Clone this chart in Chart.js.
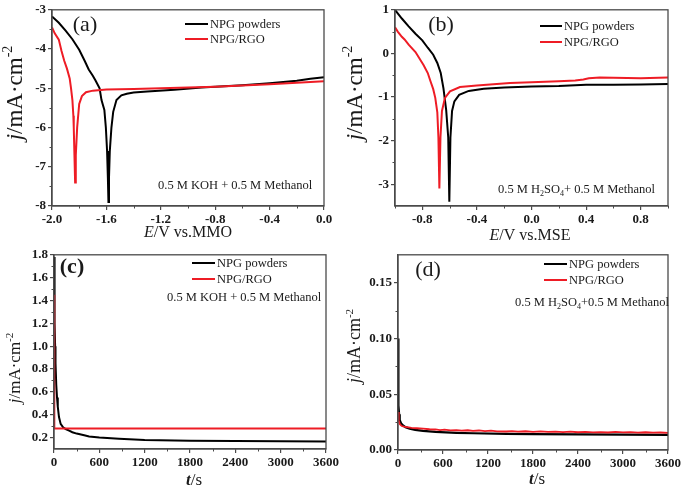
<!DOCTYPE html>
<html><head><meta charset="utf-8">
<script src="https://cdn.jsdelivr.net/npm/chart.js@4.4.0/dist/chart.umd.min.js"></script>
<style>
html,body{margin:0;padding:0;background:#fff;}
#wrap{position:relative;width:685px;height:490px;overflow:hidden;background:#fff;}
canvas{position:absolute;}
</style></head><body>
<div id="wrap">
<canvas id="ca" width="342" height="245" style="left:0;top:0"></canvas>
<canvas id="cb" width="343" height="245" style="left:342px;top:0"></canvas>
<canvas id="cc" width="342" height="245" style="left:0;top:245px"></canvas>
<canvas id="cd" width="343" height="245" style="left:342px;top:245px"></canvas>
</div>
<script>
// ---------- DATA ----------
const SERIES_NAMES = ['NPG powders', 'NPG/RGO'];

// (a) 0.5 M KOH + 0.5 M Methanol, E/V vs. MMO
const A_E_NPG = [-2.0,-1.95,-1.9,-1.85,-1.8,-1.76,-1.73,-1.70,-1.68,-1.65,-1.636,-1.615,-1.604,-1.595,-1.589,-1.585,-1.581,-1.575,-1.563,-1.55,-1.526,-1.49,-1.45,-1.4,-1.3,-1.1,-0.9,-0.8,-0.6,-0.4,-0.2,-0.1,0.0];
const A_J_NPG = [-3.17,-3.33,-3.53,-3.75,-4.02,-4.30,-4.52,-4.68,-4.80,-5.0,-5.3,-5.55,-6.0,-6.6,-7.3,-7.9,-7.3,-6.6,-6.0,-5.6,-5.3,-5.18,-5.14,-5.11,-5.08,-5.04,-4.98,-4.96,-4.92,-4.87,-4.81,-4.76,-4.72];
const A_E_RGO = [-2.0,-1.98,-1.95,-1.93,-1.91,-1.89,-1.87,-1.86,-1.85,-1.843,-1.84,-1.835,-1.83,-1.825,-1.815,-1.80,-1.78,-1.75,-1.7,-1.6,-1.4,-1.2,-1.0,-0.8,-0.6,-0.4,-0.2,0.0];
const A_J_RGO = [-3.45,-3.6,-3.76,-4.05,-4.3,-4.5,-4.75,-5.0,-5.3,-5.7,-6.0,-6.7,-7.4,-6.7,-6.0,-5.4,-5.2,-5.1,-5.06,-5.03,-5.02,-5.0,-4.98,-4.96,-4.93,-4.9,-4.86,-4.82];
const A_X_TICKS = [-2.0,-1.6,-1.2,-0.8,-0.4,0.0];
const A_X_MINOR = [-1.8,-1.4,-1.0,-0.6,-0.2];
const A_Y_TICKS = [-8,-7,-6,-5,-4,-3];
const A_Y_MINOR = [-7.5,-6.5,-5.5,-4.5,-3.5];

// (b) 0.5 M H2SO4 + 0.5 M Methanol, E/V vs. MSE
const B_E_NPG = [-1.0,-0.95,-0.9,-0.85,-0.8,-0.76,-0.72,-0.69,-0.665,-0.645,-0.625,-0.61,-0.602,-0.594,-0.582,-0.565,-0.53,-0.46,-0.35,-0.2,0.0,0.2,0.4,0.6,0.8,1.0];
const B_J_NPG = [1.0,0.8,0.62,0.45,0.3,0.13,-0.03,-0.22,-0.45,-0.8,-1.3,-1.93,-3.4,-1.93,-1.32,-1.1,-0.95,-0.86,-0.81,-0.78,-0.76,-0.75,-0.72,-0.72,-0.715,-0.70];
const B_E_RGO = [-1.0,-0.98,-0.95,-0.93,-0.9,-0.85,-0.79,-0.76,-0.74,-0.72,-0.705,-0.69,-0.682,-0.675,-0.667,-0.656,-0.634,-0.597,-0.524,-0.4,-0.157,0.0,0.2,0.32,0.38,0.42,0.5,0.6,0.8,1.0];
const B_J_RGO = [0.6,0.5,0.38,0.32,0.2,0.03,-0.27,-0.45,-0.64,-0.82,-1.02,-1.35,-1.93,-3.1,-1.93,-1.32,-1.02,-0.87,-0.77,-0.735,-0.68,-0.66,-0.64,-0.62,-0.6,-0.57,-0.555,-0.56,-0.57,-0.55];
const B_X_TICKS = [-0.8,-0.4,0.0,0.4,0.8];
const B_X_MINOR = [-1.0,-0.6,-0.2,0.2,0.6,1.0];
const B_Y_TICKS = [-3,-2,-1,0,1];
const B_Y_MINOR = [-2.5,-1.5,-0.5,0.5];

// (c) chronoamperometry, KOH
const C_T_NPG = [0,5,10,15,20,30,40,50,66,88,120,155,200,243,300,400,465,600,860,1200,1800,2400,3000,3600];
const C_J_NPG = [1.78,1.45,1.2,1.0,0.85,0.66,0.55,0.47,0.38,0.32,0.29,0.275,0.26,0.247,0.235,0.22,0.21,0.2,0.19,0.178,0.172,0.17,0.168,0.165];
const C_T_RGO = [0,4,3600];
const C_J_RGO = [1.45,0.28,0.28];
const C_X_TICKS = [0,600,1200,1800,2400,3000,3600];
const C_X_MINOR = [300,900,1500,2100,2700,3300];
const C_Y_TICKS = [0.2,0.4,0.6,0.8,1.0,1.2,1.4,1.6,1.8];
const C_Y_MINOR = [0.3,0.5,0.7,0.9,1.1,1.3,1.5,1.7];

// (d) chronoamperometry, H2SO4
const D_T_NPG = [0,3,8,15,23,40,67,100,156,230,333,500,778,1000,1445,1800,2400,3000,3600];
const D_J_NPG = [0.10,0.06,0.04,0.032,0.027,0.024,0.022,0.0205,0.0192,0.018,0.0171,0.0162,0.0154,0.015,0.0145,0.0142,0.014,0.0137,0.0135];
const D_T_RGO = [0,10,25,50,80,120,180,250,333,420,500,560,620,700,778,850,930,1000,1080,1160,1240,1320,1445,1520,1600,1700,1800,1900,2000,2100,2200,2300,2400,2500,2600,2700,2800,2900,3000,3100,3200,3300,3400,3500,3600];
const D_J_RGO = [0.034,0.026,0.023,0.0215,0.021,0.0205,0.0198,0.0195,0.0192,0.0186,0.0184,0.0179,0.0182,0.0176,0.0178,0.0174,0.0177,0.0171,0.0175,0.0169,0.0173,0.0167,0.0166,0.017,0.0165,0.0168,0.0163,0.0167,0.0162,0.0165,0.016,0.0164,0.0159,0.0162,0.0158,0.0161,0.0157,0.0162,0.0158,0.016,0.0156,0.0159,0.0155,0.0157,0.0154];
const D_X_TICKS = [0,600,1200,1800,2400,3000,3600];
const D_X_MINOR = [300,900,1500,2100,2700,3300];
const D_Y_TICKS = [0.00,0.05,0.10,0.15];
const D_Y_MINOR = [0.025,0.075,0.125];

// ---------- STYLE ----------
const FONT = '"Liberation Serif", "Times New Roman", serif';
const BLACK = '#000000';
const RED = '#ee1c25';
const FRAME = '#4a4a4a';
const TXT = '#1a1a1a';

function drawRich(ctx, segs, x, y, align) {
  let w = 0;
  const items = segs.map(s => {
    const f = `${s.italic ? 'italic ' : ''}${s.bold ? 'bold ' : ''}${s.size}px ${FONT}`;
    ctx.font = f;
    const m = ctx.measureText(s.t).width;
    w += m;
    return {t: s.t, f, w: m, dy: s.dy || 0};
  });
  let cx = align === 'center' ? x - w / 2 : x;
  ctx.textAlign = 'left';
  ctx.textBaseline = 'alphabetic';
  ctx.fillStyle = TXT;
  items.forEach(it => { ctx.font = it.f; ctx.fillText(it.t, cx, y + it.dy); cx += it.w; });
}

function yTitleSegs(size) {
  return [
    {t: 'j', italic: true, size},
    {t: '/mA\u00B7cm', size},
    {t: '-2', size: Math.round(size * 0.62), dy: -size * 0.42}
  ];
}

function makePanel(p) {
  const overlay = {
    id: 'overlay_' + p.id,
    afterDraw(chart) {
      const ctx = chart.ctx;
      const a = chart.chartArea;
      const sx = chart.scales.x, sy = chart.scales.y;
      ctx.save();
      // frame
      ctx.strokeStyle = FRAME;
      ctx.lineWidth = 1.3;
      ctx.strokeRect(a.left, a.top, a.right - a.left, a.bottom - a.top);
      // minor ticks (outward)
      ctx.lineWidth = 1;
      ctx.beginPath();
      p.x.minor.forEach(v => {
        const px = Math.round(sx.getPixelForValue(v)) + 0.5;
        ctx.moveTo(px, a.bottom); ctx.lineTo(px, a.bottom + 2.5);
      });
      p.y.minor.forEach(v => {
        const py = Math.round(sy.getPixelForValue(v)) + 0.5;
        ctx.moveTo(a.left, py); ctx.lineTo(a.left - 2.5, py);
      });
      ctx.stroke();
      // axis titles
      drawRich(ctx, p.xTitle.segs, p.xTitle.x, p.xTitle.y, 'center');
      ctx.save();
      ctx.translate(p.yTitle.x, p.yTitle.y);
      ctx.rotate(-Math.PI / 2);
      drawRich(ctx, yTitleSegs(p.yTitle.size), 0, p.yTitle.size * 0.35, 'center');
      ctx.restore();
      // panel label
      drawRich(ctx, [{t: p.label.t, size: p.label.size, bold: p.label.bold}], p.label.x, p.label.y + p.label.size * 0.35, 'center');
      // legend
      const L = p.legend;
      [BLACK, RED].forEach((c, i) => {
        ctx.strokeStyle = c;
        ctx.lineWidth = 2;
        ctx.beginPath();
        ctx.moveTo(L.x1, L.y[i]); ctx.lineTo(L.x2, L.y[i]);
        ctx.stroke();
        drawRich(ctx, [{t: SERIES_NAMES[i], size: L.size}], L.tx, L.y[i] + L.size * 0.33, 'left');
      });
      // note
      drawRich(ctx, p.note.segs, p.note.x, p.note.y + 4.3, 'left');
      ctx.restore();
    }
  };

  const ds = p.series.map((s, i) => ({
    label: SERIES_NAMES[i],
    data: s.x.map((xv, k) => ({x: xv, y: s.y[k]})),
    borderColor: s.color,
    borderWidth: s.width || 2,
    pointRadius: 0,
    tension: 0,
    fill: false,
    order: i === 0 ? 1 : 0
  }));

  const axisCommon = (ax, isX) => ({
    type: 'linear',
    min: ax.min,
    max: ax.max,
    afterBuildTicks: sc => { sc.ticks = ax.ticks.map(v => ({value: v})); },
    afterFit: sc => { if (isX) sc.height = p.xH; else sc.width = p.yW; },
    ticks: {
      autoSkip: false,
      maxRotation: 0,
      padding: 2,
      color: TXT,
      font: {family: FONT, size: 13, weight: 'bold'},
      callback: v => Number(v).toFixed(ax.dec)
    },
    grid: {drawOnChartArea: false, drawTicks: true, tickLength: 4, color: FRAME, lineWidth: 1.2},
    border: {display: true, color: FRAME, width: 1.3}
  });

  new Chart(document.getElementById(p.id), {
    type: 'line',
    data: {datasets: ds},
    options: {
      responsive: false,
      animation: false,
      devicePixelRatio: 1,
      parsing: true,
      layout: {padding: {top: p.pad.top, right: p.pad.right, left: 0, bottom: 0}},
      plugins: {legend: {display: false}, tooltip: {enabled: false}},
      scales: {x: axisCommon(p.x, true), y: axisCommon(p.y, false)}
    },
    plugins: [overlay]
  });
}

const sub = (t) => ({t, size: 8, dy: 3});

makePanel({
  id: 'ca', pad: {top: 7, right: 18}, yW: 52, xH: 39,
  x: {min: -2, max: 0, ticks: A_X_TICKS, minor: A_X_MINOR, dec: 1},
  y: {min: -8, max: -3, ticks: A_Y_TICKS, minor: A_Y_MINOR, dec: 0},
  series: [{x: A_E_NPG, y: A_J_NPG, color: BLACK}, {x: A_E_RGO, y: A_J_RGO, color: RED}],
  xTitle: {x: 188, y: 237, segs: [{t: 'E', italic: true, size: 16}, {t: '/V vs.MMO', size: 16}]},
  yTitle: {x: 14, y: 93, size: 23},
  label: {t: '(a)', x: 85, y: 23, size: 22},
  legend: {x1: 185, x2: 208, y: [24, 39], tx: 210, size: 12.5},
  note: {x: 158, y: 185, segs: [{t: '0.5 M KOH + 0.5 M Methanol', size: 12.5}]}
});

makePanel({
  id: 'cb', pad: {top: 7, right: 17}, yW: 53, xH: 39,
  x: {min: -1, max: 1, ticks: B_X_TICKS, minor: B_X_MINOR, dec: 1},
  y: {min: -3.5, max: 1, ticks: B_Y_TICKS, minor: B_Y_MINOR, dec: 0},
  series: [{x: B_E_NPG, y: B_J_NPG, color: BLACK}, {x: B_E_RGO, y: B_J_RGO, color: RED}],
  xTitle: {x: 188, y: 240, segs: [{t: 'E', italic: true, size: 16}, {t: '/V vs.MSE', size: 16}]},
  yTitle: {x: 12, y: 93, size: 23},
  label: {t: '(b)', x: 99, y: 23, size: 22},
  legend: {x1: 198, x2: 220, y: [26, 42], tx: 222, size: 12.5},
  note: {x: 156, y: 189, segs: [{t: '0.5 M H', size: 12.5}, sub('2'), {t: 'SO', size: 12.5}, sub('4'), {t: '+ 0.5 M Methanol', size: 12.5}]}
});

makePanel({
  id: 'cc', pad: {top: 8, right: 16}, yW: 54, xH: 41,
  x: {min: 0, max: 3600, ticks: C_X_TICKS, minor: C_X_MINOR, dec: 0},
  y: {min: 0.1, max: 1.8, ticks: C_Y_TICKS, minor: C_Y_MINOR, dec: 1},
  series: [{x: C_T_NPG, y: C_J_NPG, color: BLACK}, {x: C_T_RGO, y: C_J_RGO, color: RED}],
  xTitle: {x: 194, y: 240, segs: [{t: 't', italic: true, bold: true, size: 17}, {t: '/s', size: 17}]},
  yTitle: {x: 14, y: 123, size: 17},
  label: {t: '(c)', x: 72, y: 20, size: 22, bold: true},
  legend: {x1: 192, x2: 215, y: [18, 34], tx: 217, size: 12.5},
  note: {x: 167, y: 52, segs: [{t: '0.5 M KOH + 0.5 M Methanol', size: 12.5}]}
});

makePanel({
  id: 'cd', pad: {top: 8, right: 17}, yW: 56, xH: 40,
  x: {min: 0, max: 3600, ticks: D_X_TICKS, minor: D_X_MINOR, dec: 0},
  y: {min: 0, max: 0.175, ticks: D_Y_TICKS, minor: D_Y_MINOR, dec: 2},
  series: [{x: D_T_NPG, y: D_J_NPG, color: BLACK, width: 2.2}, {x: D_T_RGO, y: D_J_RGO, color: RED, width: 1.8}],
  xTitle: {x: 195, y: 239, segs: [{t: 't', italic: true, bold: true, size: 17}, {t: '/s', size: 17}]},
  yTitle: {x: 12, y: 101, size: 18},
  label: {t: '(d)', x: 86, y: 23, size: 22},
  legend: {x1: 202, x2: 225, y: [19, 35], tx: 227, size: 12.5},
  note: {x: 173, y: 57, segs: [{t: '0.5 M H', size: 12.5}, sub('2'), {t: 'SO', size: 12.5}, sub('4'), {t: '+0.5 M Methanol', size: 12.5}]}
});
</script>
</body></html>
